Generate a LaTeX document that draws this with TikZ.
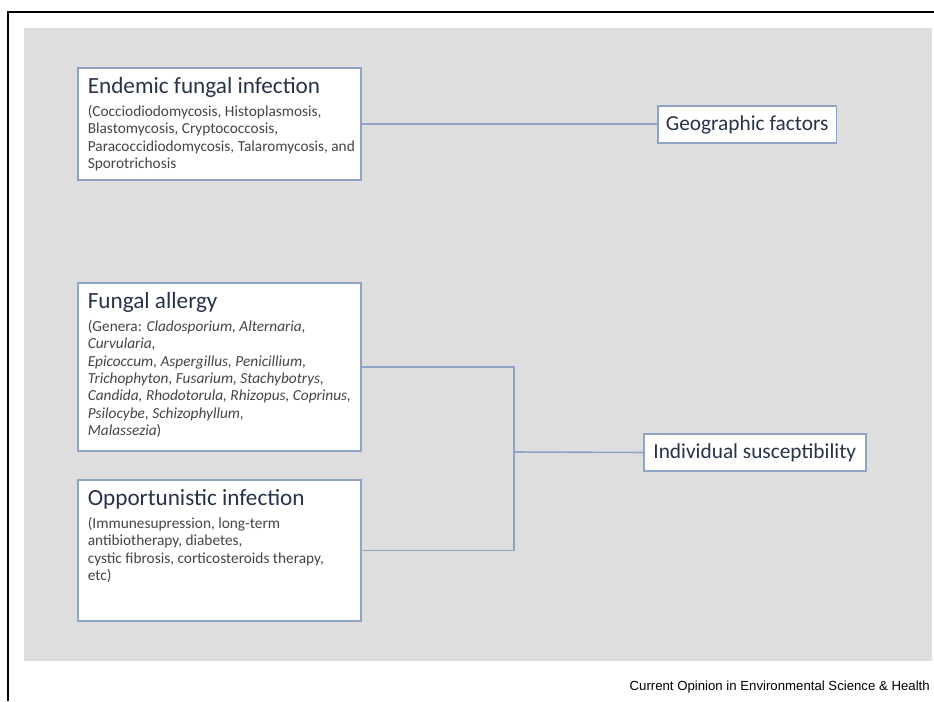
\documentclass[tikz,border=0pt]{standalone}
\usepackage{fontspec}
\setmainfont{Carlito}
\newfontfamily\creditfont{Liberation Sans}
\usetikzlibrary{positioning}
\definecolor{panel}{HTML}{DEDEDE}
\definecolor{edge}{HTML}{8FA4C4}
\definecolor{head}{HTML}{27334A}
\definecolor{body}{HTML}{454545}

% heading + list inside a fixed-height box, aligned to the top
\newcommand{\boxtext}[3]{\hspace*{7.5pt}\parbox[t][#1][t]{205pt}{\raggedright
  {\fontsize{17.4}{20}\selectfont\color{head}#2\par}\vspace{4pt}
  {\fontsize{11.5}{13}\selectfont\color{body}#3\par}}}

\begin{document}
\begin{tikzpicture}[
  x=0.75pt, y=-0.75pt,
  box/.style  = {draw=edge, line width=1.2pt, fill=white, anchor=north west,
                 inner xsep=0pt, inner ysep=7.5pt},
  tag/.style  = {draw=edge, line width=1.2pt, fill=white, anchor=north west, inner sep=2pt,
                 font=\fontsize{16}{19}\selectfont, text=head, minimum height=28pt},
  link/.style = {draw=edge, line width=1.2pt},
  frame/.style = {draw=black, line width=1.3pt},
]
\useasboundingbox (0,0) rectangle (934,701);

% ---------- background ----------
\fill[panel] (24,28) rectangle (932,661);
\draw[frame] (8,701) -- (8,12) -- (934,12);

% ---------- left column ----------
\node[box] (endemic) at (77,67)
  {\boxtext{69pt}{Endemic fungal infection}
   {(Cocciodiodomycosis, Histoplasmosis,\\ Blastomycosis, Cryptococcosis,\\
    Paracoccidiodomycosis, Talaromycosis, and\\ Sporotrichosis}};
\node[box] (allergy) at (77,282)
  {\boxtext{111pt}{Fungal allergy}
   {(Genera: \textit{Cladosporium, Alternaria,}\\ \textit{Curvularia,}\\
    \textit{Epicoccum, Aspergillus, Penicillium,}\\
    \textit{Trichophyton, Fusarium, Stachybotrys,}\\
    \textit{Candida, Rhodotorula, Rhizopus, Coprinus,}\\
    \textit{Psilocybe, Schizophyllum,}\\ \textit{Malassezia})}};
\node[box] (opport) at (77,479)
  {\boxtext{90.75pt}{Opportunistic infection}
   {(Immunesupression, long-term\\ antibiotherapy, diabetes,\\
    cystic fibrosis, corticosteroids therapy,\\ etc)}};

% ---------- right column ----------
\node[tag, minimum width=134pt] (geo) at (657,105) {Geographic factors};
\node[tag, minimum width=166.5pt] (indiv) at (643,433) {Individual susceptibility};

% ---------- connectors ----------
\coordinate (join) at (514,452);
\draw[link] (endemic.east) -- (endemic.east -| geo.west);
\draw[link] (allergy.east) -| (join) |- (opport.east);
\draw[link] (join) -- (indiv.west);

% ---------- credit ----------
\node[anchor=base east, inner sep=0pt, font=\creditfont\fontsize{9.9}{12}\selectfont] (credit)
  at (930,690) {Current Opinion in Environmental Science \& Health};

\end{tikzpicture}
\end{document}
